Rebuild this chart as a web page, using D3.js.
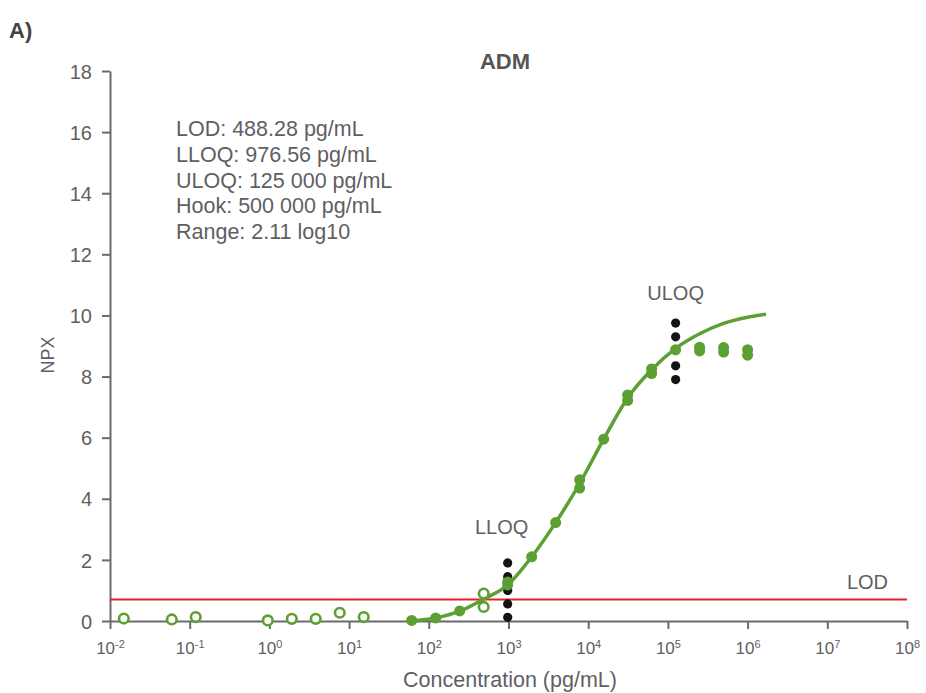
<!DOCTYPE html>
<html>
<head>
<meta charset="utf-8">
<script src="https://cdn.jsdelivr.net/npm/d3@7"></script>
<style>
  body { margin: 0; background: #fff; }
  svg text { font-family: "Liberation Sans", Arial, sans-serif; fill: #5f5f63; }
</style>
</head>
<body>
<div id="chart"></div>
<script>
// dilution series (pg/mL, NPX)
var lowConc   = [0.0149, 0.0596, 0.119, 0.954, 1.91, 3.81, 7.63, 15.26, 488.28, 488.28];
var lowNpx    = [0.08,   0.05,   0.13,  0.02,  0.07, 0.07, 0.27, 0.13,  0.90,   0.46];

var fitConc   = [61, 122, 244, 976.56, 976.56, 1953, 3906, 7812, 7812, 15625, 31250, 31250, 62500, 62500, 125000];
var fitNpx    = [0.02, 0.10, 0.33, 1.18, 1.28, 2.10, 3.22, 4.35, 4.62, 5.95, 7.22, 7.40, 8.10, 8.25, 8.88];

var hookConc  = [250000, 250000, 500000, 500000, 1000000, 1000000];
var hookNpx   = [8.84, 8.96, 8.80, 8.95, 8.70, 8.88];

// fitted curve
var curveConc = [61, 122, 244, 488.28, 976.56, 1953, 3906, 7812, 15625, 31250, 62500, 125000, 250000, 500000, 1000000, 1700000];
var curveNpx  = [0.0, 0.10, 0.32, 0.72, 1.18, 2.10, 3.22, 4.50, 5.95, 7.30, 8.22, 8.92, 9.40, 9.74, 9.94, 10.04];

// LLOQ / ULOQ replicate markers
var lloqConc = 976.56, lloqNpx = [0.12, 0.56, 1.0, 1.45, 1.90];
var uloqConc = 125000, uloqNpx = [7.90, 8.35, 8.85, 9.30, 9.75];

var lodNpx = 0.70;

var yTicks = [0, 2, 4, 6, 8, 10, 12, 14, 16, 18];
var xExps  = [-2, -1, 0, 1, 2, 3, 4, 5, 6, 7, 8];

var infoLines = ["LOD: 488.28 pg/mL", "LLOQ: 976.56 pg/mL", "ULOQ: 125 000 pg/mL",
                 "Hook: 500 000 pg/mL", "Range: 2.11 log10"];

var green = "#5c9f33";
var axisCol = "#6b6b6b";

var W = 926, H = 693;
var svg = d3.select("#chart").append("svg")
    .attr("width", W).attr("height", H);

var x = d3.scaleLog().domain([1e-2, 1e8]).range([110, 907]);
var y = d3.scaleLinear().domain([0, 18]).range([621, 71]);

// panel letter and title
svg.append("text").attr("x", 9).attr("y", 38)
    .style("font-size", "22px").style("font-weight", "bold").style("fill", "#444")
    .text("A)");
svg.append("text").attr("x", 505).attr("y", 69).attr("text-anchor", "middle")
    .style("font-size", "22px").style("font-weight", "bold").style("fill", "#555")
    .text("ADM");

// axes
var yAxis = svg.append("g").attr("transform", "translate(110,0)")
    .call(d3.axisLeft(y).tickValues(yTicks).tickSize(8).tickSizeOuter(0).tickPadding(10));
var xAxis = svg.append("g").attr("transform", "translate(0,621)")
    .call(d3.axisBottom(x).tickValues(xExps.map(function(e){ return Math.pow(10, e); }))
        .tickSize(8).tickSizeOuter(0).tickPadding(6).tickFormat(function(){ return ""; }));

[yAxis, xAxis].forEach(function(a) {
    a.select(".domain").attr("stroke", axisCol).attr("stroke-width", 2);
    a.selectAll(".tick line").attr("stroke", axisCol).attr("stroke-width", 2);
});
yAxis.selectAll(".tick text").style("font-size", "20px").attr("dy", "0.36em");

xAxis.selectAll(".tick text").each(function(d, i) {
    var t = d3.select(this);
    t.style("font-size", "17px").attr("dy", "1.1em");
    t.append("tspan").text("10");
    t.append("tspan").attr("dy", "-0.5em").style("font-size", "11px").text(xExps[i]);
});

svg.append("text").attr("x", 510).attr("y", 687).attr("text-anchor", "middle")
    .style("font-size", "21.5px").text("Concentration (pg/mL)");
svg.append("text").attr("transform", "translate(54,355) rotate(-90)").attr("text-anchor", "middle")
    .style("font-size", "18px").text("NPX");

// info block
svg.append("g").selectAll("text").data(infoLines).enter().append("text")
    .attr("x", 176).attr("y", function(d, i) { return 136 + i * 25.8; })
    .style("font-size", "21.5px")
    .text(function(d) { return d; });

// LOD line
svg.append("line")
    .attr("x1", x(1e-2)).attr("x2", x(1e8))
    .attr("y1", y(lodNpx)).attr("y2", y(lodNpx))
    .attr("stroke", "#e3222b").attr("stroke-width", 2);
svg.append("text").attr("x", x(1e8) - 19).attr("y", y(lodNpx) - 11).attr("text-anchor", "end")
    .style("font-size", "20px").text("LOD");

// LLOQ / ULOQ dotted markers
[[lloqConc, lloqNpx, "LLOQ", 29, -6], [uloqConc, uloqNpx, "ULOQ", 23, 0]].forEach(function(m) {
    svg.append("g").selectAll("circle").data(m[1]).enter().append("circle")
        .attr("cx", x(m[0])).attr("cy", function(d) { return y(d); })
        .attr("r", 4.6).attr("fill", "#141414");
    svg.append("text").attr("x", x(m[0]) + m[4]).attr("y", y(d3.max(m[1])) - m[3])
        .attr("text-anchor", "middle").style("font-size", "20px").text(m[2]);
});

// fitted curve
var line = d3.line()
    .x(function(d, i) { return x(curveConc[i]); })
    .y(function(d) { return y(d); })
    .curve(d3.curveMonotoneX);
svg.append("path").datum(curveNpx)
    .attr("d", line).attr("fill", "none")
    .attr("stroke", green).attr("stroke-width", 3.5);

// open points
svg.append("g").selectAll("circle").data(lowNpx).enter().append("circle")
    .attr("cx", function(d, i) { return x(lowConc[i]); })
    .attr("cy", function(d) { return y(d); })
    .attr("r", 4.8).attr("fill", "#fff")
    .attr("stroke", green).attr("stroke-width", 2.6);

// filled points
svg.append("g").selectAll("circle").data(fitNpx.concat(hookNpx)).enter().append("circle")
    .attr("cx", function(d, i) { return x(fitConc.concat(hookConc)[i]); })
    .attr("cy", function(d) { return y(d); })
    .attr("r", 5.5).attr("fill", green);
</script>
</body>
</html>
